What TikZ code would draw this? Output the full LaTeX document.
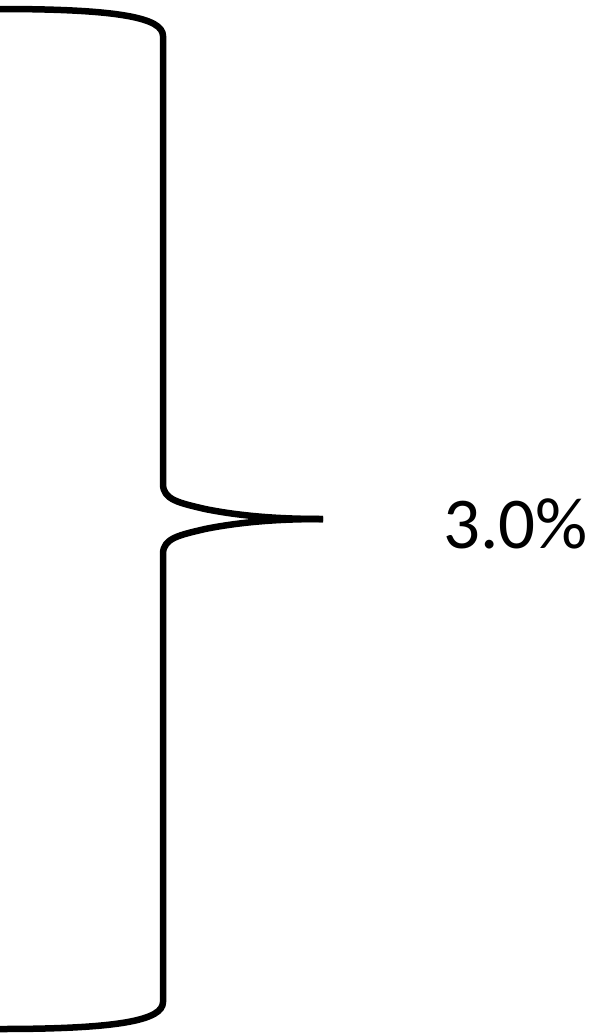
\documentclass[tikz,border=0pt]{standalone}
\usepackage{fontspec}
\setmainfont{Carlito}
\usepackage{tikz}

\begin{document}
\begin{tikzpicture}[x=1pt, y=-1pt,
  bracestroke/.style={draw=black, line width=6.5pt, line cap=butt, line join=round},
  pctlabel/.style={font=\fontsize{73}{80}\selectfont, anchor=base west, inner sep=0pt}
]
\useasboundingbox (0,0) rectangle (590,1034);
% upper half of the brace
\draw[bracestroke] (0,9) .. controls (120,9) and (163,18) .. (163,36)
  -- (163,484) .. controls (163,500) and (180,503) .. (205,509)
  .. controls (245,517) and (285,519) .. (323,519);
% lower half of the brace
\draw[bracestroke] (323,519) .. controls (285,519) and (245,521) .. (205,529)
  .. controls (180,535) and (163,538) .. (163,554)
  -- (163,1002) .. controls (163,1020) and (120,1029) .. (0,1029);
\node[pctlabel] (pct) at (443,548) {3.0\%};
\end{tikzpicture}
\end{document}
